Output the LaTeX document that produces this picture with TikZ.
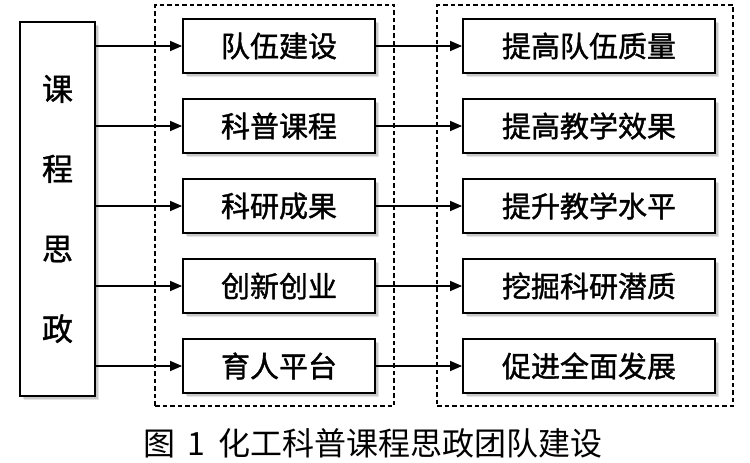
\documentclass[tikz,border=0pt]{standalone}
\usepackage{fontspec}
\setmainfont{Noto Sans CJK SC}[FakeBold=1.3]
\newfontfamily\capfont{Noto Sans CJK SC}
\newfontfamily\boxfont{Noto Sans CJK SC}[FakeBold=1.3]
\usetikzlibrary{arrows.meta,shadows}
\tikzset{
  box/.style={draw=black, line width=1.8pt, fill=white, inner sep=0pt,
    font=\boxfont\fontsize{29}{29}\selectfont,
    drop shadow={shadow xshift=4pt, shadow yshift=-4pt, fill=black, opacity=0.10},
    drop shadow={shadow xshift=2.5pt, shadow yshift=-2.5pt, fill=black, opacity=0.12}},
  midbox/.style={box, minimum width=192pt, minimum height=54pt},
  rbox/.style={box, minimum width=252pt, minimum height=54pt},
  dbox/.style={draw=black, line width=1.4pt, dash pattern=on 4.5pt off 3pt, inner sep=0pt},
  arr/.style={draw=black, line width=1.5pt, -{Triangle[length=12pt,width=10pt]}}
}
\begin{document}
\begin{tikzpicture}[x=1pt,y=-1pt]
\useasboundingbox (0,0) rectangle (750,463);
\node[dbox, minimum width=239pt, minimum height=401pt] (D1) at (274.5,205.5) {};
\node[dbox, minimum width=296pt, minimum height=401pt] (D2) at (585,205.5) {};
\node[box, minimum width=75pt, minimum height=374pt, align=center,
  font=\boxfont\fontsize{31}{80}\selectfont] (L) at (57.5,209) {课\\程\\思\\政};
\foreach \i/\t/\r [count=\k] in {46/队伍建设/提高队伍质量, 126/科普课程/提高教学效果, 206/科研成果/提升教学水平, 286/创新创业/挖掘科研潜质, 366/育人平台/促进全面发展}{
  \node[midbox] (M\k) at (279,\i) {\t};
  \node[rbox] (R\k) at (589,\i) {\r};
  \draw[arr] (L.east |- M\k.west) -- (M\k.west);
  \draw[arr] (M\k.east) -- (R\k.west);
}
\node[font=\capfont\fontsize{32}{32}\selectfont] (cap) at (373,443) {图\hspace{12pt}1\hspace{14pt}化工科普课程思政团队建设};
\end{tikzpicture}
\end{document}
